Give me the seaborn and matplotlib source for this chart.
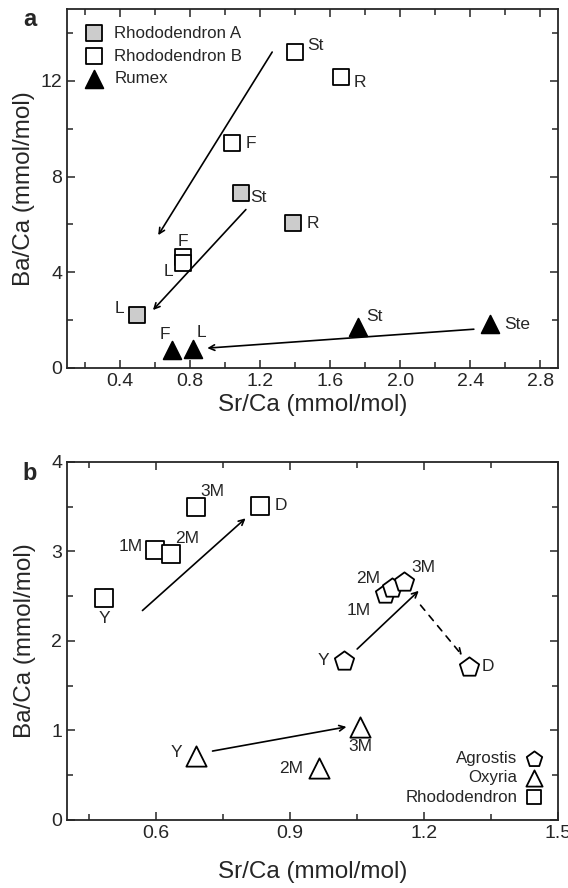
import matplotlib
matplotlib.use("Agg")
import matplotlib.pyplot as plt
import seaborn as sns
import pandas as pd
from matplotlib.ticker import MultipleLocator

# ---------------- data: panel a ----------------
rhodoA_x = [1.09, 1.39, 0.50]
rhodoA_y = [7.3, 6.05, 2.2]
rhodoA_lab = ["St", "R", "L"]

rhodoB_x = [1.40, 1.66, 1.04, 0.76, 0.76]
rhodoB_y = [13.2, 12.15, 9.4, 4.65, 4.4]
rhodoB_lab = ["St", "R", "F", "F", "L"]

rumex_x = [0.70, 0.82, 1.76, 2.51]
rumex_y = [0.75, 0.80, 1.70, 1.82]
rumex_lab = ["F", "L", "St", "Ste"]

arrows_a_start = [(1.27, 13.2), (1.12, 6.62), (2.42, 1.62)]
arrows_a_end = [(0.62, 5.55), (0.59, 2.42), (0.90, 0.83)]

# ---------------- data: panel b ----------------
rhodo_x = [0.483, 0.598, 0.632, 0.688, 0.832]
rhodo_y = [2.48, 3.02, 2.97, 3.50, 3.51]
rhodo_lab = ["Y", "1M", "2M", "3M", "D"]

agro_x = [1.02, 1.112, 1.127, 1.154, 1.30]
agro_y = [1.78, 2.53, 2.59, 2.66, 1.71]
agro_lab = ["Y", "1M", "2M", "3M", "D"]

oxy_x = [0.688, 0.965, 1.057]
oxy_y = [0.72, 0.58, 1.04]
oxy_lab = ["Y", "2M", "3M"]

arrows_b_start = [(0.569, 2.34), (1.05, 1.91), (0.726, 0.77)]
arrows_b_end = [(0.80, 3.37), (1.188, 2.56), (1.026, 1.04)]
dashed_b_start = (1.192, 2.40)
dashed_b_end = (1.285, 1.84)

# ---------------- layout (label offsets in points) ----------------
offA = [(13, -3), (14, 0), (-13, 5)]
offB = [(15, 5), (14, -4), (14, 0), (0, 11), (-10, -6)]
offR = [(-5, 11), (6, 12), (12, 8), (20, 0)]
offRh = [(0, -15), (-18, 2), (12, 11), (12, 11), (15, 0)]
offAg = [(-15, 0), (-19, -12), (-17, 7), (14, 10), (14, 0)]
offOx = [(-14, 2), (-20, 0), (0, -14)]

sns.set_style("ticks")
plt.rcParams["font.family"] = ["Liberation Sans", "DejaVu Sans"]

fig = plt.figure(figsize=(5.68, 8.88), dpi=100)
axa = fig.add_axes([0.118, 0.5856, 0.8644, 0.4043])
axb = fig.add_axes([0.118, 0.0766, 0.8644, 0.4032])

ms = 125
lw = 1.3


def labels(ax, xs, ys, labs, offs, fs=12.5):
    for x, y, t, o in zip(xs, ys, labs, offs):
        ax.annotate(t, (x, y), xytext=o, textcoords="offset points",
                    ha="center", va="center", fontsize=fs)


# ---------------- panel a ----------------
dfA = pd.DataFrame({"x": rhodoA_x, "y": rhodoA_y})
dfB = pd.DataFrame({"x": rhodoB_x, "y": rhodoB_y})
dfR = pd.DataFrame({"x": rumex_x, "y": rumex_y})
sns.scatterplot(data=dfA, x="x", y="y", ax=axa, marker="s", s=ms, color="#cccccc",
                edgecolor="black", linewidth=lw, label="Rhododendron A", zorder=3)
sns.scatterplot(data=dfB, x="x", y="y", ax=axa, marker="s", s=ms, color="white",
                edgecolor="black", linewidth=lw, label="Rhododendron B", zorder=3)
sns.scatterplot(data=dfR, x="x", y="y", ax=axa, marker="^", s=ms * 1.3, color="black",
                edgecolor="black", linewidth=lw, label="Rumex", zorder=3)
labels(axa, rhodoA_x, rhodoA_y, rhodoA_lab, offA)
labels(axa, rhodoB_x, rhodoB_y, rhodoB_lab, offB)
labels(axa, rumex_x, rumex_y, rumex_lab, offR)
for s0, e0 in zip(arrows_a_start, arrows_a_end):
    axa.annotate("", xy=e0, xytext=s0,
                 arrowprops=dict(arrowstyle="->", lw=1.2, color="black", shrinkA=0, shrinkB=0))

axa.set_xlim(0.1, 2.9)
axa.set_ylim(0, 15)
axa.xaxis.set_minor_locator(MultipleLocator(0.2))
axa.yaxis.set_major_locator(MultipleLocator(4))
axa.yaxis.set_minor_locator(MultipleLocator(2))
axa.set_xticks([0.4, 0.8, 1.2, 1.6, 2.0, 2.4, 2.8])
axa.set_xticklabels(["0.4", "0.8", "1.2", "1.6", "2.0", "2.4", "2.8"])
axa.set_xlabel("Sr/Ca (mmol/mol)", fontsize=17.5, labelpad=3)
axa.set_ylabel("Ba/Ca (mmol/mol)", fontsize=17.5, labelpad=4)
axa.legend(loc="upper left", frameon=False, fontsize=12.2, handletextpad=0.6,
           borderaxespad=0.6, labelspacing=0.45, handlelength=1.2)

# ---------------- panel b ----------------
dfRh = pd.DataFrame({"x": rhodo_x, "y": rhodo_y})
dfAg = pd.DataFrame({"x": agro_x, "y": agro_y})
dfOx = pd.DataFrame({"x": oxy_x, "y": oxy_y})
sns.scatterplot(data=dfAg, x="x", y="y", ax=axb, marker="p", s=ms * 1.7, color="white",
                edgecolor="black", linewidth=lw, label="Agrostis", zorder=3)
sns.scatterplot(data=dfOx, x="x", y="y", ax=axb, marker="^", s=ms * 1.7, color="white",
                edgecolor="black", linewidth=lw, label="Oxyria", zorder=3)
sns.scatterplot(data=dfRh, x="x", y="y", ax=axb, marker="s", s=ms * 1.4, color="white",
                edgecolor="black", linewidth=lw, label="Rhododendron", zorder=3)
labels(axb, rhodo_x, rhodo_y, rhodo_lab, offRh)
labels(axb, agro_x, agro_y, agro_lab, offAg)
labels(axb, oxy_x, oxy_y, oxy_lab, offOx)
for s0, e0 in zip(arrows_b_start, arrows_b_end):
    axb.annotate("", xy=e0, xytext=s0,
                 arrowprops=dict(arrowstyle="->", lw=1.2, color="black", shrinkA=0, shrinkB=0))
axb.annotate("", xy=dashed_b_end, xytext=dashed_b_start,
             arrowprops=dict(arrowstyle="->", lw=1.2, color="black", linestyle=(0, (4, 4)),
                             shrinkA=0, shrinkB=0))

axb.set_xlim(0.4, 1.5)
axb.set_ylim(0, 4)
axb.set_xticks([0.6, 0.9, 1.2, 1.5])
axb.set_xticklabels(["0.6", "0.9", "1.2", "1.5"])
axb.set_xticks([0.45, 0.75, 1.05, 1.35], minor=True)
axb.yaxis.set_major_locator(MultipleLocator(1))
axb.yaxis.set_minor_locator(MultipleLocator(0.5))
axb.set_xlabel("Sr/Ca (mmol/mol)", fontsize=17.5, labelpad=14)
axb.set_ylabel("Ba/Ca (mmol/mol)", fontsize=17.5, labelpad=11)
axb.legend(loc="lower right", frameon=False, fontsize=12.2, markerfirst=False,
           handletextpad=0.5, borderaxespad=0.5, labelspacing=0.25, handlelength=1.0,
           markerscale=0.8)

for ax in (axa, axb):
    for sp in ax.spines.values():
        sp.set_visible(True)
        sp.set_linewidth(1.3)
    ax.tick_params(which="both", direction="in", top=True, right=True, labelsize=14,
                   width=1.1)
    ax.tick_params(which="major", length=6)
    ax.tick_params(which="minor", length=4)

fig.text(0.053, 0.978, "a", fontsize=17, fontweight="bold", ha="center", va="center")
fig.text(0.053, 0.467, "b", fontsize=17, fontweight="bold", ha="center", va="center")

fig.savefig("out.png", dpi=100)
